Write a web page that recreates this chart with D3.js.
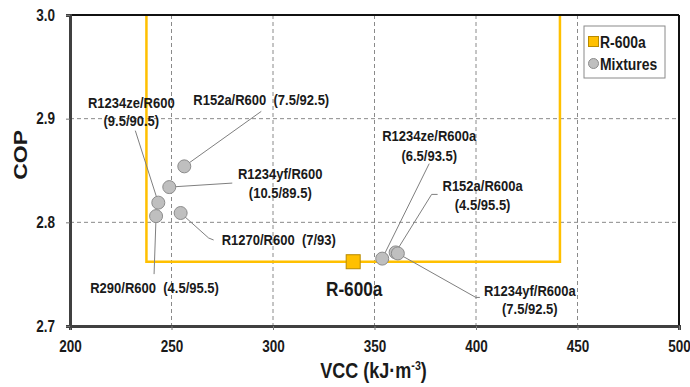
<!DOCTYPE html>
<html>
<head>
<meta charset="utf-8">
<script src="https://cdn.jsdelivr.net/npm/d3@7"></script>
<style>
  body { margin: 0; background: #fff; }
  text { font-family: "Liberation Sans", Arial, sans-serif; font-weight: bold; fill: #1a1a1a; }
</style>
</head>
<body>
<svg id="chart"></svg>
<script>
// Reference refrigerant
const refName = "R-600a";
const refVCC = 339.5;
const refCOP = 2.762;

// Mixtures (name, composition, VCC, COP)
const mixNames = ["R1234ze/R600", "R152a/R600", "R1234yf/R600", "R1270/R600", "R290/R600",
                  "R1234ze/R600a", "R152a/R600a", "R1234yf/R600a"];
const mixComp = ["(9.5/90.5)", "(7.5/92.5)", "(10.5/89.5)", "(7/93)", "(4.5/95.5)",
                 "(6.5/93.5)", "(4.5/95.5)", "(7.5/92.5)"];
const mixVCC = [243.5, 256.3, 248.9, 254.5, 242.4, 353.8, 360.4, 361.5];
const mixCOP = [2.819, 2.854, 2.834, 2.809, 2.806, 2.765, 2.771, 2.770];

// Axis ticks
const xTicks = [200, 250, 300, 350, 400, 450, 500];
const yTicks = [2.7, 2.8, 2.9, 3.0];

// Label layout (pixel offsets from each point)
const labelLayout = [
  { anchor: "middle", dx: -27, dy: -95, split: true, lh: 18, lead: [[-23, -72]] },
  { anchor: "start", dx: 9, dy: -61, split: false, lead: [[77, -55]] },
  { anchor: "middle", dx: 111, dy: -8, split: true, lh: 18.5, lead: [[63, -4]] },
  { anchor: "start", dx: 41, dy: 32, split: false, lead: [[28, 25], [33, 27]] },
  { anchor: "middle", dx: -1.5, dy: 77, split: false, lead: [[-2, 58]] },
  { anchor: "middle", dx: 47, dy: -118, split: true, lh: 20, lead: [[47, -95]] },
  { anchor: "middle", dx: 87, dy: -61, split: true, lh: 18.5, lead: [[36, -58], [42, -58]] },
  { anchor: "middle", dx: 132, dy: 43, split: true, lh: 18, lead: [[78, 44], [82, 44]] }
];

const NARROW = 0.82; // horizontal squeeze to mimic a narrow font

const W = 690, H = 387;
const margin = { top: 15, right: 11, bottom: 61, left: 70 };
const width = W - margin.left - margin.right;
const height = H - margin.top - margin.bottom;

const svg = d3.select("#chart").attr("width", W).attr("height", H);
const g = svg.append("g").attr("transform", `translate(${margin.left},${margin.top})`);

const x = d3.scaleLinear().domain([200, 500]).range([0, width]);
const y = d3.scaleLinear().domain([2.7, 3.0]).range([height, 0]);

// helper: narrow text placed at (tx, ty)
function narrowText(parent, tx, ty, str, size, anchor, sx) {
  return parent.append("g")
    .attr("transform", `translate(${tx},${ty}) scale(${sx || NARROW},1)`)
    .append("text")
    .attr("text-anchor", anchor || "start")
    .style("font-size", size + "px")
    .style("white-space", "pre")
    .text(str);
}

// Gridlines
g.append("g").selectAll("line").data(xTicks.slice(1, -1)).enter().append("line")
  .attr("x1", d => x(d)).attr("x2", d => x(d)).attr("y1", 0).attr("y2", height)
  .attr("stroke", "#8a8a8a").attr("stroke-dasharray", "4,3");
g.append("g").selectAll("line").data(yTicks.slice(1, -1)).enter().append("line")
  .attr("x1", 0).attr("x2", width).attr("y1", d => y(d)).attr("y2", d => y(d))
  .attr("stroke", "#8a8a8a").attr("stroke-dasharray", "4,3");

// Orange region: COP above reference, VCC within +/-30 %
const lo = refVCC * 0.7, hi = refVCC * 1.3;
g.append("path")
  .attr("d", d3.line()([[x(lo), 0], [x(lo), y(refCOP)], [x(hi), y(refCOP)], [x(hi), 0]]))
  .attr("fill", "none").attr("stroke", "#FFC000").attr("stroke-width", 2.5);

// Frame top/right
g.append("line").attr("x1", 0).attr("x2", width).attr("y1", 0).attr("y2", 0)
  .attr("stroke", "#111").attr("stroke-width", 2);
g.append("line").attr("x1", width).attr("x2", width).attr("y1", 0).attr("y2", height)
  .attr("stroke", "#111").attr("stroke-width", 2);

// Axes
const xAxis = g.append("g").attr("transform", `translate(0,${height})`)
  .call(d3.axisBottom(x).tickValues(xTicks).tickSize(4).tickPadding(10).tickFormat(d3.format("d")));
const yAxis = g.append("g")
  .call(d3.axisLeft(y).tickValues(yTicks).tickSize(4).tickPadding(10).tickFormat(d3.format(".1f")));
[xAxis, yAxis].forEach(a => {
  a.select(".domain").attr("stroke", "#404040").attr("stroke-width", 3);
  a.selectAll(".tick line").attr("stroke", "#777");
  a.selectAll(".tick text").style("font-size", "16.5px").attr("fill", "#1a1a1a")
    .style("font-family", "'Liberation Sans', Arial, sans-serif").style("font-weight", "bold")
    .attr("transform", `scale(${NARROW},1)`);
});
yAxis.selectAll(".tick text").attr("x", -15 / NARROW);

// Axis titles
svg.append("g").attr("transform", `translate(${margin.left + x(350) - 1},378) scale(${NARROW},1)`)
  .append("text").attr("text-anchor", "middle").style("font-size", "22px")
  .html('VCC (kJ·m<tspan dy="-8" style="font-size:13px">-3</tspan><tspan dy="8">)</tspan>');
svg.append("g").attr("transform", `translate(27,${margin.top + y(2.865)}) rotate(-90) scale(1,${NARROW})`)
  .append("text").attr("text-anchor", "middle").attr("y", 0).style("font-size", "23px").text("COP");

// Leader lines and labels
const mixData = mixNames.map((n, i) => ({ name: n, comp: mixComp[i], vcc: mixVCC[i], cop: mixCOP[i], lay: labelLayout[i] }));

g.append("g").selectAll("polyline").data(mixData).enter().append("polyline")
  .attr("points", d => {
    const px = x(d.vcc), py = y(d.cop);
    return [[px, py]].concat(d.lay.lead.map(p => [px + p[0], py + p[1]])).map(p => p.join(",")).join(" ");
  })
  .attr("fill", "none").attr("stroke", "#7f7f7f").attr("stroke-width", 1);

const labelG = g.append("g");
mixData.forEach(d => {
  const tx = x(d.vcc) + d.lay.dx, ty = y(d.cop) + d.lay.dy;
  if (d.lay.split) {
    narrowText(labelG, tx, ty, d.name, 15.5, d.lay.anchor, 0.84);
    narrowText(labelG, tx, ty + d.lay.lh, d.comp, 15.5, d.lay.anchor, 0.84);
  } else {
    narrowText(labelG, tx, ty, d.name + "  " + d.comp, 15.5, d.lay.anchor, 0.84);
  }
});

// Mixture points
g.append("g").selectAll("circle").data(mixData).enter().append("circle")
  .attr("cx", d => x(d.vcc)).attr("cy", d => y(d.cop)).attr("r", 6.5)
  .attr("fill", "#bfbfbf").attr("stroke", "#8c8c8c").attr("stroke-width", 1);

// Reference point
g.append("rect")
  .attr("x", x(refVCC) - 7).attr("y", y(refCOP) - 7).attr("width", 14).attr("height", 14)
  .attr("fill", "#FFC000").attr("stroke", "#b88a00").attr("stroke-width", 1);
narrowText(g, x(refVCC) + 1, y(refCOP) + 34, refName, 21, "middle");

// Legend
const lg = svg.append("g").attr("transform", "translate(584,26)");
lg.append("rect").attr("width", 81).attr("height", 52).attr("fill", "#fff").attr("stroke", "#8a8a8a");
lg.append("rect").attr("x", 4.5).attr("y", 10.5).attr("width", 10).attr("height", 10)
  .attr("fill", "#FFC000").attr("stroke", "#b88a00");
narrowText(lg, 16, 21.5, refName, 17);
lg.append("circle").attr("cx", 9.5).attr("cy", 37.5).attr("r", 5)
  .attr("fill", "#bfbfbf").attr("stroke", "#8c8c8c");
narrowText(lg, 16, 44, "Mixtures", 17);
</script>
</body>
</html>
